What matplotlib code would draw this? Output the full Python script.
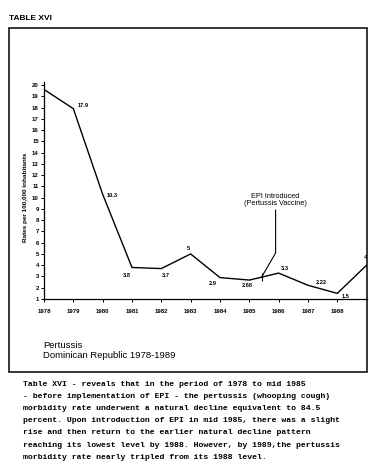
import matplotlib
matplotlib.use("Agg")
import matplotlib.pyplot as plt
from matplotlib.patches import Rectangle
import numpy as np

# --- DATA ---
YEARS = [1978, 1979, 1980, 1981, 1982, 1983, 1984, 1985, 1986, 1987, 1988, 1989]
RATES = [19.6, 17.9, 10.3, 3.8, 3.7, 5, 2.9, 2.68, 3.3, 2.22, 1.5, 4]
RATE_LABELS = ["", "17.9", "10.3", "3.8", "3.7", "5", "2.9", "2.68", "3.3", "2.22", "1.5", "4"]
Y_TICKS = list(range(1, 21))
EPI_YEAR = 1985.42
EPI_TEXT = "EPI Introduced\n(Pertussis Vaccine)"

CAPTION = [
    "Table XVI - reveals that in the period of 1978 to mid 1985",
    "- before implementation of EPI - the pertussis (whooping cough)",
    "morbidity rate underwent a natural decline equivalent to 84.5",
    "percent. Upon introduction of EPI in mid 1985, there was a slight",
    "rise and then return to the earlier natural decline pattern",
    "reaching its lowest level by 1988. However, by 1989,the pertussis",
    "morbidity rate nearly tripled from its 1988 level.",
]

# label offsets in pixels (dx, dy) - style only
LABEL_OFFSETS = [(0, 0), (10, 3), (10, -1), (-5, -8), (5, -7), (-2, 5),
                 (-7, -6), (-2, -5), (6, 5), (13, 3), (8, -3), (-1, 8)]

W, H = 369, 476
plt.rcParams['font.family'] = ['Liberation Sans', 'DejaVu Sans']
fig = plt.figure(figsize=(W / 100, H / 100), dpi=100)
fig.patch.set_facecolor("white")

def fx(px):
    return px / W

def fy(py):
    return 1 - py / H

# frame around the chart
fig.patches.append(Rectangle((fx(8.5), fy(372)), fx(367) - fx(8.5), fy(28) - fy(372),
                             transform=fig.transFigure, fill=False, lw=1.1, color="black"))
fig.text(fx(9), fy(19), "TABLE XVI", fontsize=6, fontweight="bold", va="center", ha="left")

ax = fig.add_axes([fx(44), fy(299), fx(366.6) - fx(44), fy(81.6) - fy(299)])
ax.plot(YEARS, RATES, color="black", lw=1.0, solid_joinstyle="miter")
ax.set_xlim(1978, 1989)
ax.set_ylim(1, 20.3)
ax.set_xticks(YEARS[:-1])
ax.set_xticklabels([str(y) for y in YEARS[:-1]])
ax.set_yticks(Y_TICKS)
for s in ["top", "right"]:
    ax.spines[s].set_visible(False)
for s in ["left", "bottom"]:
    ax.spines[s].set_linewidth(0.9)
ax.tick_params(axis="both", direction="out", length=2.2, width=0.7, labelsize=4.3, pad=1.5)
ax.tick_params(axis="x", pad=5)
for lbl in ax.get_xticklabels() + ax.get_yticklabels():
    lbl.set_fontweight("bold")

ax.set_ylabel("Rates per 100,000 inhabitants", fontsize=4.6, fontweight="bold")
ax.yaxis.set_label_coords(-0.051, 0.47)

for x, y, t, off in zip(YEARS, RATES, RATE_LABELS, LABEL_OFFSETS):
    if t:
        ax.annotate(t, (x, y), xytext=off, textcoords="offset pixels",
                    ha="center", va="center", fontsize=4.1, fontweight="bold",
                    annotation_clip=False)

# EPI annotation with leader line
epi_y = np.interp(EPI_YEAR, YEARS, RATES)
ax.plot([EPI_YEAR], [epi_y], marker="|", markersize=6, mew=0.8, color="black")
ax.annotate(EPI_TEXT, (EPI_YEAR, epi_y), xytext=(14, 70), textcoords="offset pixels",
            ha="center", va="bottom", fontsize=5.3, linespacing=1.05,
            arrowprops=dict(arrowstyle="-", lw=0.8, color="black", shrinkA=0, shrinkB=0,
                            relpos=(0.5, 0), connectionstyle="angle,angleA=90,angleB=60,rad=0"))

fig.text(fx(43), fy(346), "Pertussis", fontsize=6.8, va="center", ha="left")
fig.text(fx(43), fy(356), "Dominican Republic 1978-1989", fontsize=6.8, va="center", ha="left")

for i, line in enumerate(CAPTION):
    fig.text(fx(23), fy(384 + i * 12.25), line, fontsize=5.9, family="Liberation Mono",
             fontweight="bold", va="center", ha="left")

fig.savefig("out.png", dpi=100)
